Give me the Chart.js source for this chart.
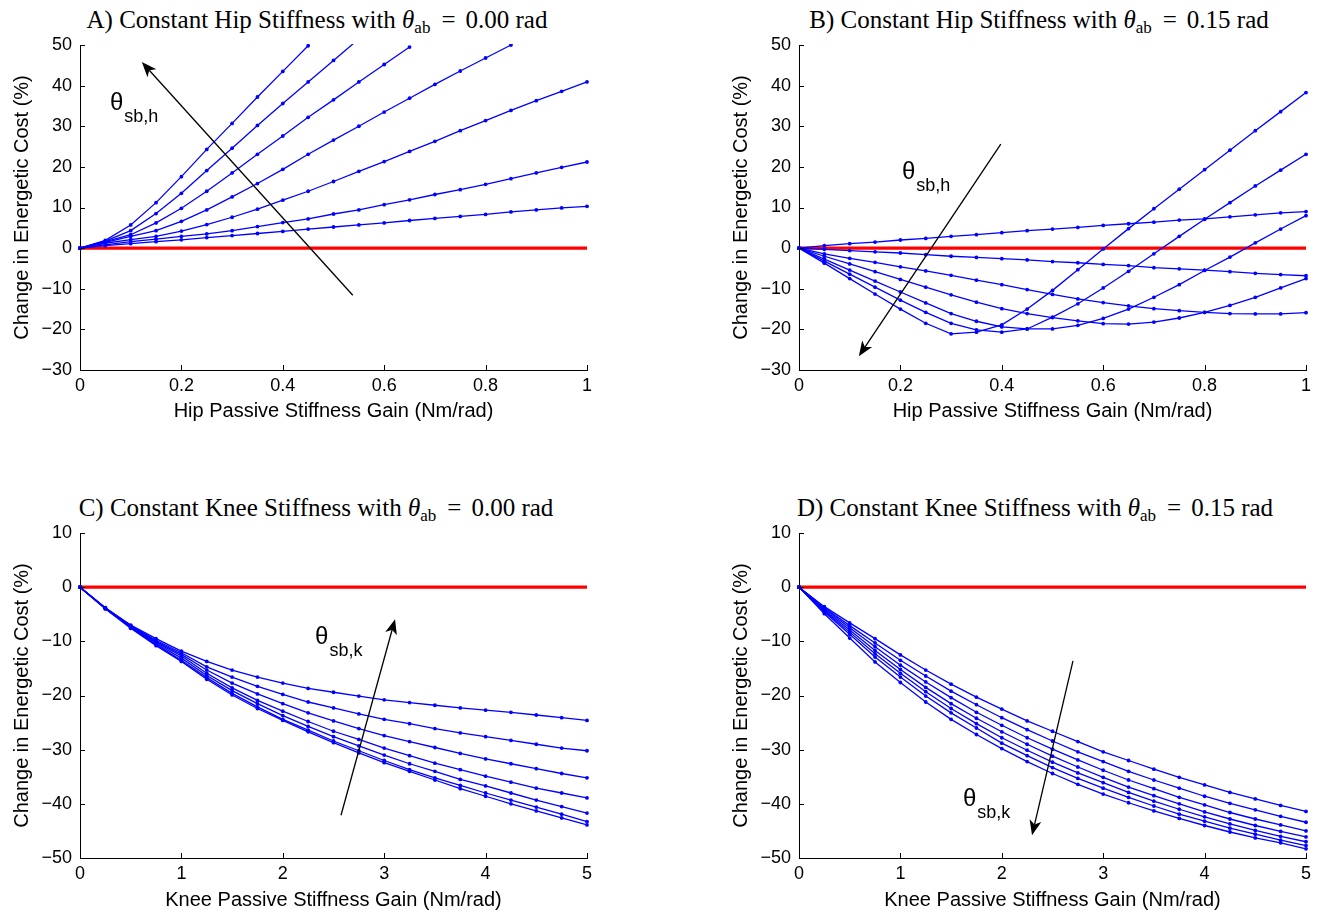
<!DOCTYPE html>
<html>
<head>
<meta charset="utf-8">
<script src="https://cdn.jsdelivr.net/npm/chart.js@4.4.0/dist/chart.umd.min.js"></script>
<style>
body{margin:0;background:#fff;width:1320px;height:912px;position:relative;overflow:hidden}
canvas{position:absolute}
.t{position:absolute;width:660px;text-align:center;font-family:"Liberation Serif","Times New Roman",serif;font-size:25px;line-height:25px;white-space:nowrap;color:#000}
.t sub{font-size:17px;vertical-align:-5px;line-height:0}
.t .eq{margin:0 10px 0 11px}
</style>
</head>
<body>

<div class="t" style="left:-13px;top:7px">A) Constant Hip Stiffness with <i>θ</i><sub>ab</sub><span class="eq">=</span>0.00 rad</div>
<div class="t" style="left:709px;top:7px">B) Constant Hip Stiffness with <i>θ</i><sub>ab</sub><span class="eq">=</span>0.15 rad</div>
<div class="t" style="left:-14px;top:495px">C) Constant Knee Stiffness with <i>θ</i><sub>ab</sub><span class="eq">=</span>0.00 rad</div>
<div class="t" style="left:705px;top:495px">D) Constant Knee Stiffness with <i>θ</i><sub>ab</sub><span class="eq">=</span>0.15 rad</div>

<canvas id="chartA" width="660" height="425" style="left:0;top:0"></canvas>
<canvas id="chartB" width="660" height="425" style="left:660px;top:0"></canvas>
<canvas id="chartC" width="660" height="426" style="left:0;top:488px"></canvas>
<canvas id="chartD" width="660" height="426" style="left:660px;top:488px"></canvas>

<script>

// x values (gain) for each family of curves
let hipGain=[0,0.05,0.1,0.15,0.2,0.25,0.3,0.35,0.4,0.45,0.5,0.55,0.6,0.65,0.7,0.75,0.8,0.85,0.9,0.95,1]
let kneeGain=[0,0.25,0.5,0.75,1,1.25,1.5,1.75,2,2.25,2.5,2.75,3,3.25,3.5,3.75,4,4.25,4.5,4.75,5]

let hipTicks=[0,0.2,0.4,0.6,0.8,1]
let kneeTicks=[0,1,2,3,4,5]
let hipCostTicks=[-30,-20,-10,0,10,20,30,40,50]
let kneeCostTicks=[-50,-40,-30,-20,-10,0,10]

// A) hip, theta_ab = 0.00 (change in energetic cost, %)
let a1=[0,0.6,1.1,1.6,2.05,2.6,3.1,3.6,4.1,4.7,5.2,5.7,6.2,6.8,7.3,7.8,8.3,8.9,9.4,9.9,10.3]
let a2=[0,0.8,1.6,2.2,2.9,3.5,4.3,5.3,6.3,7.2,8.4,9.4,10.7,11.9,13.2,14.4,15.7,17.1,18.5,19.9,21.2]
let a3=[0,1.2,2.1,2.9,4.2,5.8,7.6,9.6,11.8,14.0,16.4,18.9,21.3,23.8,26.3,28.9,31.4,33.9,36.3,38.6,40.9]
let a4=[0,1.4,2.9,4.3,6.6,9.4,12.6,15.9,19.4,23.1,26.6,30.0,33.5,36.9,40.3,43.6,46.8,50.0,null,null,null]
let a5=[0,1.6,3.3,6.2,9.8,14.0,18.5,23.1,27.6,32.2,36.5,40.9,45.2,49.5,null,null,null,null,null,null,null]
let a6=[0,1.7,4.3,8.5,13.5,19.1,24.6,30.2,35.6,40.9,46.2,51.5,null,null,null,null,null,null,null,null,null]
let a7=[0,1.9,5.7,11.2,17.6,24.3,30.7,37.2,43.5,49.8,null,null,null,null,null,null,null,null,null,null,null]

// B) hip, theta_ab = 0.15
let b1=[0,0.6,1.1,1.5,2.0,2.4,2.9,3.3,3.8,4.3,4.7,5.1,5.6,6.0,6.4,6.9,7.2,7.7,8.2,8.7,9.0]
let b2=[0,-0.3,-0.6,-0.9,-1.2,-1.6,-2.0,-2.3,-2.6,-2.9,-3.3,-3.6,-4.0,-4.3,-4.8,-5.1,-5.4,-5.8,-6.2,-6.5,-6.8]
let b3=[0,-1.4,-2.5,-3.5,-4.6,-5.6,-6.7,-7.9,-9.0,-10.2,-11.4,-12.5,-13.4,-14.2,-14.9,-15.4,-15.8,-16.1,-16.2,-16.2,-15.9]
let b4=[0,-2.0,-3.9,-5.8,-7.7,-9.6,-11.5,-13.3,-14.9,-16.1,-17.1,-17.9,-18.6,-18.7,-18.2,-17.2,-15.8,-14.1,-12.1,-9.8,-7.5]
let b5=[0,-2.7,-5.4,-8.1,-10.8,-13.5,-16.1,-18.0,-19.4,-19.9,-19.9,-19.0,-17.3,-15.0,-12.1,-9.0,-5.5,-2.2,1.3,4.7,8.0]
let b6=[0,-3.2,-6.4,-9.6,-12.8,-15.8,-18.5,-20.1,-20.7,-19.9,-17.0,-13.7,-9.8,-5.7,-1.4,2.9,7.1,11.2,15.3,19.2,23.1]
let b7=[0,-3.7,-7.5,-11.3,-15.0,-18.5,-21.1,-20.7,-18.9,-15.0,-10.4,-5.3,-0.2,4.8,9.7,14.5,19.3,24.1,28.9,33.6,38.3]

// C) knee, theta_ab = 0.00
let c1=[0,-3.8,-7.0,-9.5,-11.8,-13.7,-15.3,-16.6,-17.7,-18.7,-19.4,-20.1,-20.8,-21.3,-21.8,-22.3,-22.7,-23.1,-23.6,-24.1,-24.6]
let c2=[0,-3.8,-7.1,-9.8,-12.1,-14.7,-16.6,-18.3,-19.8,-21.2,-22.3,-23.4,-24.4,-25.2,-26.1,-26.9,-27.6,-28.3,-29.0,-29.7,-30.2]
let c3=[0,-3.9,-7.2,-10.0,-12.4,-15.3,-17.7,-19.7,-21.5,-23.2,-24.7,-26.1,-27.4,-28.5,-29.6,-30.7,-31.7,-32.6,-33.5,-34.4,-35.2]
let c4=[0,-3.9,-7.3,-10.2,-12.7,-15.9,-18.6,-20.9,-22.9,-24.8,-26.6,-28.1,-29.7,-31.1,-32.5,-33.7,-34.9,-36.0,-37.1,-38.0,-38.9]
let c5=[0,-3.9,-7.4,-10.4,-13.1,-16.3,-19.1,-21.5,-23.7,-25.7,-27.6,-29.3,-31.0,-32.6,-34.0,-35.5,-36.7,-38.0,-39.3,-40.5,-41.7]
let c6=[0,-4.0,-7.5,-10.6,-13.5,-16.7,-19.6,-22.1,-24.4,-26.4,-28.4,-30.2,-32.0,-33.7,-35.2,-36.6,-38.0,-39.3,-40.6,-41.9,-43.3]
let c7=[0,-4.0,-7.6,-10.8,-13.7,-17.0,-19.9,-22.4,-24.6,-26.7,-28.7,-30.6,-32.4,-34.0,-35.6,-37.2,-38.6,-40.0,-41.3,-42.6,-43.9]

// D) knee, theta_ab = 0.15
let d1=[0,-3.6,-6.6,-9.5,-12.5,-15.3,-17.9,-20.3,-22.5,-24.7,-26.6,-28.5,-30.4,-32.0,-33.6,-35.1,-36.5,-37.9,-39.1,-40.3,-41.4]
let d2=[0,-3.8,-7.1,-10.3,-13.5,-16.4,-19.2,-21.7,-24.1,-26.3,-28.4,-30.4,-32.2,-34.0,-35.6,-37.1,-38.6,-39.9,-41.1,-42.3,-43.4]
let d3=[0,-4.0,-7.5,-11.0,-14.4,-17.5,-20.4,-23.1,-25.5,-27.8,-29.9,-31.9,-33.8,-35.6,-37.2,-38.8,-40.2,-41.6,-42.8,-43.9,-45.0]
let d4=[0,-4.2,-7.9,-11.7,-15.2,-18.5,-21.5,-24.2,-26.7,-29.0,-31.2,-33.2,-35.1,-36.9,-38.5,-40.0,-41.5,-42.8,-44.0,-45.1,-46.1]
let d5=[0,-4.4,-8.3,-12.3,-15.9,-19.3,-22.4,-25.2,-27.8,-30.1,-32.3,-34.3,-36.1,-37.9,-39.5,-41.0,-42.4,-43.7,-44.9,-46.0,-47.0]
let d6=[0,-4.6,-8.7,-12.9,-16.6,-20.1,-23.2,-26.0,-28.8,-31.1,-33.3,-35.3,-37.1,-38.8,-40.4,-41.9,-43.2,-44.5,-45.6,-46.7,-47.7]
let d7=[0,-4.9,-9.4,-13.8,-17.6,-21.2,-24.4,-27.2,-29.8,-32.2,-34.4,-36.4,-38.2,-39.8,-41.3,-42.7,-44.0,-45.2,-46.3,-47.2,-48.3]


// arrow (tail x,y -> head x,y) and theta label, in data units
let annA={arrow:[0.538,-11.6,0.122,45.8],label:[0.059,34.0],sub:"sb,h"}
let annB={arrow:[0.398,25.6,0.118,-26.6],label:[0.203,17.0],sub:"sb,h"}
let annC={arrow:[2.574,-42.1,3.107,-5.9],label:[2.318,-10.5],sub:"sb,k"}
let annD={arrow:[2.702,-13.6,2.298,-45.8],label:[1.617,-40.4],sub:"sb,k"}


let decor={
id:"decor",
afterDraw(chart,args,opts){

let ctx=chart.ctx
let xs=chart.scales.x
let ys=chart.scales.y
let area=chart.chartArea

ctx.save()
ctx.strokeStyle="#000"
ctx.fillStyle="#000"
ctx.lineWidth=1

// matlab style ticks, pointing inwards
xs.ticks.forEach(t=>{
let p=Math.round(xs.getPixelForValue(t.value))+0.5
ctx.beginPath()
ctx.moveTo(p,area.bottom)
ctx.lineTo(p,area.bottom-5)
ctx.stroke()
})

ys.ticks.forEach(t=>{
let p=Math.round(ys.getPixelForValue(t.value))+0.5
ctx.beginPath()
ctx.moveTo(area.left,p)
ctx.lineTo(area.left+5,p)
ctx.stroke()
})

let a=opts.arrow
let x1=xs.getPixelForValue(a[0])
let y1=ys.getPixelForValue(a[1])
let x2=xs.getPixelForValue(a[2])
let y2=ys.getPixelForValue(a[3])
let ang=Math.atan2(y2-y1,x2-x1)
let c=Math.cos(ang)
let s=Math.sin(ang)
let L=15
let W=6
let N=4

ctx.lineWidth=1.3
ctx.beginPath()
ctx.moveTo(x1,y1)
ctx.lineTo(x2-c*(L-N),y2-s*(L-N))
ctx.stroke()

ctx.beginPath()
ctx.moveTo(x2,y2)
ctx.lineTo(x2-L*c+W*s,y2-L*s-W*c)
ctx.lineTo(x2-(L-N)*c,y2-(L-N)*s)
ctx.lineTo(x2-L*c-W*s,y2-L*s+W*c)
ctx.closePath()
ctx.fill()

let lx=xs.getPixelForValue(opts.label[0])
let ly=ys.getPixelForValue(opts.label[1])
ctx.textBaseline="alphabetic"
ctx.textAlign="left"
ctx.font='24px "Liberation Sans", Arial, sans-serif'
ctx.fillText("θ",lx,ly)
let w=ctx.measureText("θ").width
ctx.font='18px "Liberation Sans", Arial, sans-serif'
ctx.fillText(opts.sub,lx+w+1,ly+12)

ctx.restore()
}
}

Chart.register(decor)


function fmt(v){

return (v<0?"\u2212":"")+Math.abs(v)

}


function makeChart(id,gain,series,xTicks,yTicks,xLabel,ann,padLeft,padRight,xHeight){

let sets=series.map(s=>({
data:gain.map((x,i)=>({x:x,y:s[i]})).filter(p=>p.y!==null),
borderColor:"#0000ff",
backgroundColor:"#0000ff",
borderWidth:1.3,
pointRadius:1.9,
pointBorderWidth:0,
tension:0,
clip:{left:5,right:5,top:1,bottom:5}
}))

// zero reference line
sets.push({
data:[{x:gain[0],y:0},{x:gain[gain.length-1],y:0}],
borderColor:"#ff0000",
borderWidth:3.4,
pointRadius:0
})

let tickFont={family:"'Liberation Sans', Arial, sans-serif",size:18}
let titleFont={family:"'Liberation Sans', Arial, sans-serif",size:20}

return new Chart(
document.getElementById(id),
{
type:"line",
data:{datasets:sets},
options:{
responsive:false,
animation:false,
events:[],
layout:{padding:{top:45,left:padLeft,right:padRight,bottom:0}},
plugins:{
legend:{display:false},
tooltip:{enabled:false},
decor:ann
},
scales:{
x:{
type:"linear",
min:xTicks[0],
max:xTicks[xTicks.length-1],
afterBuildTicks:sc=>{sc.ticks=xTicks.map(v=>({value:v}))},
afterFit:sc=>{sc.height=xHeight},
grid:{display:false,drawTicks:false},
border:{display:true,color:"#000",width:1},
ticks:{color:"#000",font:tickFont,padding:5,maxRotation:0,autoSkip:false,callback:v=>fmt(v)},
title:{display:true,text:xLabel,color:"#000",font:titleFont,padding:{top:0,bottom:2}}
},
y:{
min:yTicks[0],
max:yTicks[yTicks.length-1],
afterBuildTicks:sc=>{sc.ticks=yTicks.map(v=>({value:v}))},
afterFit:sc=>{sc.width=80},
grid:{display:false,drawTicks:false},
border:{display:true,color:"#000",width:1},
ticks:{color:"#000",font:tickFont,padding:8,autoSkip:false,callback:v=>fmt(v)},
title:{display:true,text:"Change in Energetic Cost (%)",color:"#000",font:titleFont,padding:{top:10,bottom:0}}
}
}
}
})

}


makeChart("chartA",hipGain,[a1,a2,a3,a4,a5,a6,a7],hipTicks,hipCostTicks,"Hip Passive Stiffness Gain (Nm/rad)",annA,0,73,55)
makeChart("chartB",hipGain,[b1,b2,b3,b4,b5,b6,b7],hipTicks,hipCostTicks,"Hip Passive Stiffness Gain (Nm/rad)",annB,59,14,55)
makeChart("chartC",kneeGain,[c1,c2,c3,c4,c5,c6,c7],kneeTicks,kneeCostTicks,"Knee Passive Stiffness Gain (Nm/rad)",annC,0,73,56)
makeChart("chartD",kneeGain,[d1,d2,d3,d4,d5,d6,d7],kneeTicks,kneeCostTicks,"Knee Passive Stiffness Gain (Nm/rad)",annD,59,14,56)

</script>
</body>
</html>
